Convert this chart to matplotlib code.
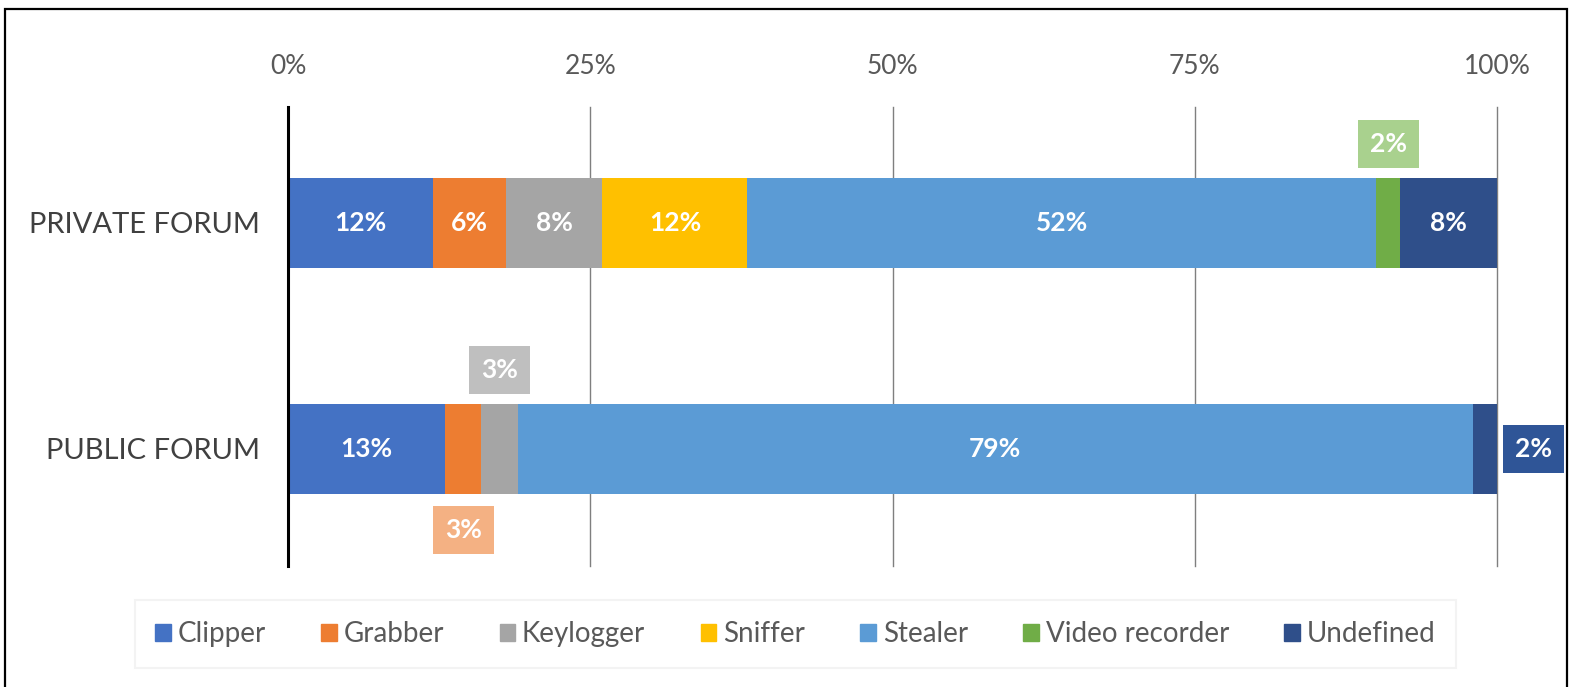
import matplotlib.pyplot as plt
import matplotlib.patches as mpatches
import numpy as np

plt.rcParams['font.family'] = ['Lato', 'DejaVu Sans']

# data
categories = ["PUBLIC FORUM", "PRIVATE FORUM"]
series = ["Clipper", "Grabber", "Keylogger", "Sniffer", "Stealer", "Video recorder", "Undefined"]
public_vals = [13, 3, 3, 0, 79, 0, 2]
private_vals = [12, 6, 8, 12, 52, 2, 8]
x_ticks = [0, 25, 50, 75, 100]
x_tick_labels = ["0%", "25%", "50%", "75%", "100%"]

colors = ["#4472C4", "#ED7D31", "#A5A5A5", "#FFC000", "#5B9BD5", "#70AD47", "#2F4F8A"]
callout_colors = {"Grabber": "#F4B183", "Keylogger": "#BFBFBF",
                  "Video recorder": "#A9D18E", "Undefined": "#2F5597"}

# callout offsets (dx in %, dy in bar units) for small segments
callouts = {
    (1, "Video recorder"): (0, 0.35),
    (0, "Keylogger"): (0, 0.35),
    (0, "Grabber"): (0, -0.36),
    (0, "Undefined"): (4, 0),
}

fig = plt.figure(figsize=(15.72, 6.87), dpi=100)
ax = fig.add_axes([0.1832, 0.1761, 0.7691, 0.6681])

data = np.array([public_vals, private_vals], dtype=float)
y = np.arange(len(categories))
left = np.zeros(len(categories))

for j, name in enumerate(series):
    vals = data[:, j]
    ax.barh(y, vals, left=left, height=0.4, color=colors[j], label=name, zorder=2)
    for i in range(len(categories)):
        v = vals[i]
        if v <= 0:
            continue
        cx = left[i] + v / 2
        key = (i, name)
        if key in callouts:
            dx, dy = callouts[key]
            ax.text(cx + dx, y[i] + dy, f"{v:.0f}%", ha="center", va="center",
                    color="white", fontsize=19, fontweight="bold", zorder=4,
                    bbox=dict(boxstyle="square,pad=0.45", fc=callout_colors[name], ec="none"),
                    clip_on=False)
        else:
            ax.text(cx, y[i], f"{v:.0f}%", ha="center", va="center",
                    color="white", fontsize=19, fontweight="bold", zorder=4)
    left += vals

ax.set_xlim(0, 100)
ax.set_ylim(-0.518, 1.513)
ax.set_xticks(x_ticks)
ax.set_xticklabels(x_tick_labels)
ax.xaxis.tick_top()
ax.tick_params(axis="x", length=0, pad=20, labelsize=19, labelcolor="#595959")
ax.set_yticks(y)
ax.set_yticklabels(categories)
ax.tick_params(axis="y", length=0, pad=20, labelsize=21, labelcolor="#404040")

for sp in ["top", "right", "bottom"]:
    ax.spines[sp].set_visible(False)
ax.spines["left"].set_linewidth(2.2)
ax.spines["left"].set_color("black")
ax.spines["left"].set_zorder(5)
ax.grid(axis="x", color="#7f7f7f", linewidth=1.0, zorder=1)
ax.set_axisbelow(True)
for gl in ax.get_xgridlines():
    gl.set_clip_on(False)

handles = [mpatches.Patch(color=c, label=s) for s, c in zip(series, colors)]
leg = fig.legend(handles=handles, loc="center", bbox_to_anchor=(0.506, 0.077), ncol=7,
                 frameon=True, fontsize=20, handlelength=0.55, handleheight=0.55,
                 handletextpad=0.25, columnspacing=2.0, borderpad=0.75, fancybox=False,
                 labelcolor="#595959")
leg.get_frame().set_edgecolor("#f0f0f0")
leg.get_frame().set_linewidth(1.5)

# outer frame of the screenshot
fig.patches.append(mpatches.Rectangle((5 / 1572, -0.05), 1562 / 1572, 1.05 - 9 / 687,
                                      transform=fig.transFigure, fill=False,
                                      edgecolor="black", linewidth=1.6))

fig.savefig("out.png", dpi=100)
